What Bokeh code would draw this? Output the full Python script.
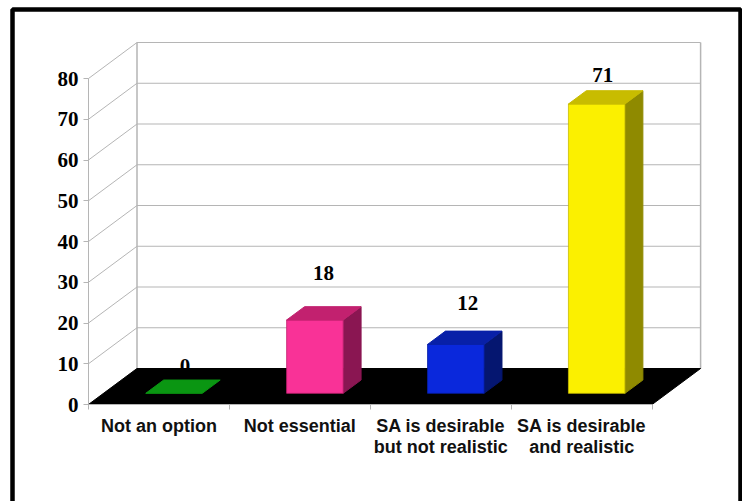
from bokeh.plotting import figure
from bokeh.models import Range1d, FixedTicker, BoxAnnotation
from bokeh.embed import file_html
from bokeh.resources import INLINE
from bokeh.core.properties import value

categories = ["Not an option", "Not essential", "SA is desirable\nbut not realistic", "SA is desirable\nand realistic"]
values = [0, 18, 12, 71]
y_ticks = [0, 10, 20, 30, 40, 50, 60, 70, 80]
front_colors = ["#0a9612", "#f93297", "#0a28dc", "#fbf000"]
top_colors = ["#0a9612", "#c2216f", "#0820a8", "#c8bc00"]
side_colors = ["#0a9612", "#8a1652", "#051670", "#8f8a00"]

PX_X = 140.9
PX_Y = 4.075
DX = 48.5 / PX_X
DY = 36 / PX_Y
W = 56.5 / PX_X
Z0, Z1 = 0.31, 0.68
LEFT, BOTTOM = 88, 404
WIDTH, HEIGHT = 742, 501
GRID = "#b5b5b5"

p = figure(width=WIDTH, height=HEIGHT, output_backend="svg", toolbar_location=None,
           x_range=Range1d(-LEFT / PX_X, (WIDTH - LEFT) / PX_X),
           y_range=Range1d((BOTTOM - HEIGHT) / PX_Y, BOTTOM / PX_Y),
           min_border_left=0, min_border_right=0, min_border_top=0,
           min_border_bottom=0, outline_line_color=None)
p.grid.visible = False

# y axis
ya = p.yaxis[0]
ya.fixed_location = 0
ya.bounds = (min(y_ticks), max(y_ticks))
ya.ticker = FixedTicker(ticks=y_ticks)
ya.axis_line_color = GRID
ya.major_tick_line_color = GRID
ya.major_tick_in = 0
ya.major_tick_out = 5
ya.minor_tick_line_color = None
ya.major_label_text_font = "Liberation Serif"
ya.major_label_text_font_style = "bold"
ya.major_label_text_font_size = "21px"
ya.major_label_text_color = "#000000"
ya.major_label_standoff = 5

# x axis: labels at category centres, ticks at category boundaries
n = len(categories)
centers = [i + 0.5 for i in range(n)]
xa = p.xaxis[0]
xa.fixed_location = 0
xa.bounds = (0, n)
xa.ticker = FixedTicker(ticks=centers, minor_ticks=list(range(n + 1)))
xa.major_label_overrides = dict(zip(centers, categories))
xa.axis_line_color = GRID
xa.major_tick_line_color = None
xa.minor_tick_line_color = GRID
xa.minor_tick_in = 0
xa.minor_tick_out = 5
xa.major_tick_in = 0
xa.major_tick_out = 0
xa.major_label_text_font = "Liberation Sans"
xa.major_label_text_font_style = "bold"
xa.major_label_text_font_size = "18px"
xa.major_label_text_line_height = 1.05
xa.major_label_text_color = "#111111"
xa.major_label_standoff = 6

# walls
top = max(y_ticks)
side_x = [[0, DX] for v in y_ticks]
side_y = [[v, v + DY] for v in y_ticks]
back_x = [[DX, n + DX] for v in y_ticks]
back_y = [[v + DY, v + DY] for v in y_ticks]
p.multi_line(side_x + back_x, side_y + back_y, line_color=GRID, line_width=1)
p.multi_line([[DX, DX], [n + DX, n + DX]], [[DY, top + DY], [DY, top + DY]], line_color=GRID, line_width=1.5)

# data labels lie behind the floor
lab_x = [c + Z0 * DX for c in centers]
lab_y = [v + Z0 * DY for v in values]
lab_dx = [11, 8.5, 12, 6]
lab_dy = [-27, -47, -41, -29]
p.text(lab_x, lab_y, text=[str(v) for v in values], x_offset=lab_dx, y_offset=lab_dy,
       text_font=value("Liberation Serif"), text_font_style="bold", text_font_size="21px",
       text_align="center", text_baseline="middle", text_color="#000000")

# floor
p.patch([0, n, n + DX, DX], [0, 0, DY, DY], fill_color="#000000", line_color="#000000")

# bars
for i, v in enumerate(values):
    x0 = centers[i] - W / 2 + Z0 * DX
    x1 = x0 + W
    shift = (Z1 - Z0) * DX
    lift = (Z1 - Z0) * DY
    y0 = Z0 * DY
    y1 = y0 + v
    if v > 0:
        p.patch([x1, x1 + shift, x1 + shift, x1], [y0, y0 + lift, y1 + lift, y1],
                fill_color=side_colors[i], line_color=side_colors[i])
        p.patch([x0, x1, x1, x0], [y0, y0, y1, y1],
                fill_color=front_colors[i], line_color=top_colors[i], line_width=0.8)
    p.patch([x0, x1, x1 + shift, x0 + shift], [y1, y1, y1 + lift, y1 + lift],
            fill_color=top_colors[i], line_color=top_colors[i])

# picture frame, open at the bottom of the window
p.add_layout(BoxAnnotation(left=(12 - LEFT) / PX_X, right=(740 - LEFT) / PX_X,
                           top=(BOTTOM - 9) / PX_Y, bottom=(BOTTOM - 540) / PX_Y,
                           fill_alpha=0, line_color="#000000", line_alpha=1, line_width=4.5,
                           level="overlay", editable=False))

open("out.html", "w").write(file_html(p, INLINE))
